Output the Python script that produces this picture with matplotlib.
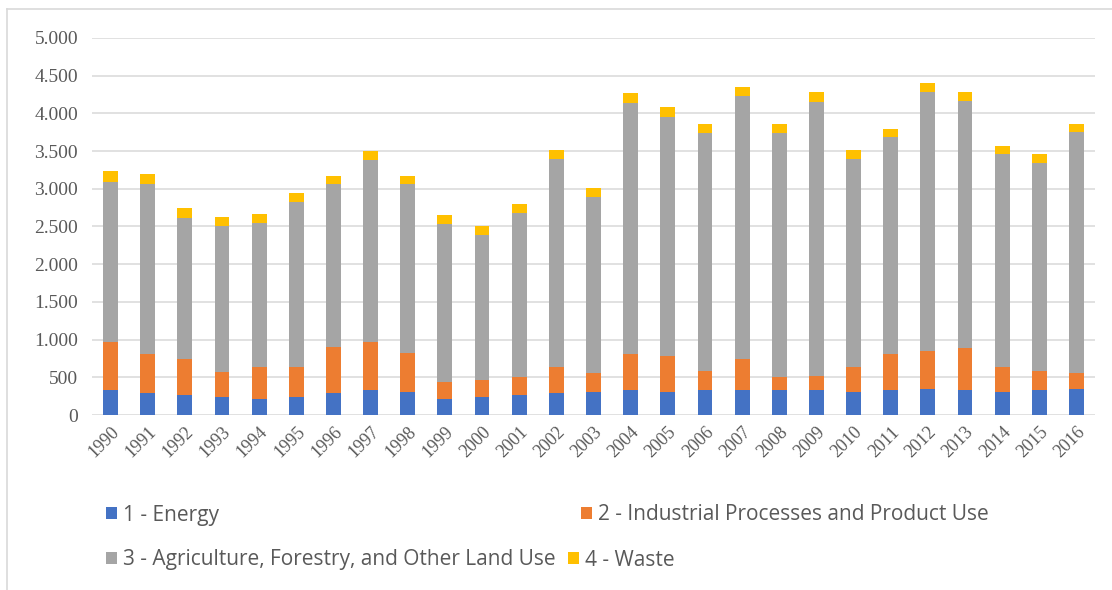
import matplotlib
matplotlib.use("Agg")
import matplotlib.pyplot as plt
import numpy as np
from matplotlib.lines import Line2D

years = [str(y) for y in range(1990, 2017)]
energy = [332, 287, 265, 243, 212, 243, 287, 332, 310, 212, 235, 265, 287, 300,
          332, 300, 332, 332, 332, 332, 300, 332, 340, 332, 300, 332, 345]
industry = [632, 518, 474, 323, 429, 398, 619, 632, 508, 230, 229, 243, 354, 253,
            473, 482, 252, 407, 170, 185, 341, 473, 513, 561, 341, 256, 208]
agriculture = [2130, 2258, 1878, 1945, 1901, 2180, 2154, 2418, 2242, 2091, 1923, 2167, 2750, 2334,
               3337, 3166, 3152, 3492, 3234, 3638, 2754, 2878, 3435, 3271, 2817, 2750, 3196]
waste = [142, 129, 133, 111, 124, 119, 114, 123, 114, 119, 124, 123, 124, 119,
         124, 141, 119, 115, 119, 125, 120, 110, 119, 124, 114, 120, 110]
series_names = ["1 - Energy", "2 - Industrial Processes and Product Use",
                "3 - Agriculture, Forestry, and Other Land Use", "4 - Waste"]
colors = ["#4472C4", "#ED7D31", "#A5A5A5", "#FFC000"]
yticks = [0, 500, 1000, 1500, 2000, 2500, 3000, 3500, 4000, 4500, 5000]
ytick_labels = ["0", "500", "1.000", "1.500", "2.000", "2.500", "3.000", "3.500", "4.000", "4.500", "5.000"]

W, H = 1112, 590
fig = plt.figure(figsize=(W / 100, H / 100), dpi=100)
ax = fig.add_axes([92 / W, 1 - 415 / H, 1003 / W, 377 / H])

x = np.arange(len(years))
data = [energy, industry, agriculture, waste]
bottom = np.zeros(len(years))
containers = []
for vals, c, name in zip(data, colors, series_names):
    bc = ax.bar(x, vals, width=0.4, bottom=bottom, color=c, label=name, zorder=3)
    containers.append(bc)
    bottom += np.array(vals)

ax.set_xlim(-0.5, len(years) - 0.5)
ax.set_ylim(0, 5000)
ax.set_yticks(yticks)
ax.set_yticklabels(ytick_labels, family="Liberation Serif", fontsize=14, color="#595959")
ax.set_xticks(x)
ax.set_xticklabels(years, rotation=45, ha="right", rotation_mode="anchor",
                   family="Liberation Serif", fontsize=13, color="#595959")
ax.tick_params(axis="both", length=0)
ax.tick_params(axis="y", pad=10)
ax.tick_params(axis="x", pad=6)
for s in ax.spines.values():
    s.set_visible(False)
ax.grid(axis="y", color="#DCDCDC", linewidth=1.2, zorder=0)
ax.set_axisbelow(True)

# legend entries placed like Excel's flowing legend
positions = [(106, 515), (581, 515), (106, 560), (568, 560)]
for bc, name, (px, py) in zip(containers, series_names, positions):
    fig.legend([bc], [name], loc="center left", bbox_to_anchor=(px / W, 1 - py / H),
               frameon=False, prop={"family": "Open Sans", "size": 15},
               handlelength=0.55, handleheight=0.55, handletextpad=0.25,
               borderpad=0, borderaxespad=0, labelcolor="#595959")

# outer chart frame (top and left edges visible)
fig.add_artist(Line2D([7 / W, 1], [1 - 9 / H, 1 - 9 / H], color="#D9D9D9", lw=1.2, transform=fig.transFigure))
fig.add_artist(Line2D([7 / W, 7 / W], [0, 1 - 9 / H], color="#D9D9D9", lw=1.2, transform=fig.transFigure))

fig.savefig("out.png", dpi=100)
